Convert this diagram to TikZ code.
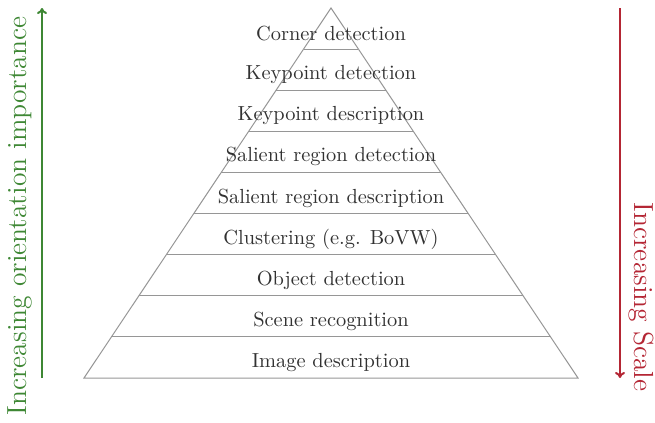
\documentclass[tikz,border=0pt]{standalone}
\usetikzlibrary{arrows.meta,calc}
\definecolor{grn}{RGB}{62,135,52}
\definecolor{rd}{RGB}{180,38,52}
\definecolor{txt}{RGB}{50,50,50}
\definecolor{ln}{RGB}{150,150,150}
\begin{document}
\begin{tikzpicture}[x=0.5pt,y=-0.5pt,
  layer/.style={text=txt,font=\fontsize{10.2}{12}\selectfont,inner sep=0pt},
  side/.style={font=\fontsize{13.8}{16}\selectfont,inner sep=0pt},
  pline/.style={draw=ln,line width=0.5pt},
  sarrow/.style={line width=1pt,-{To[length=3pt,width=5pt]}}]
\useasboundingbox (0,0) rectangle (655,423);
\coordinate (apex) at (331,8);
\coordinate (bl) at (84,378);
\coordinate (br) at (578,378);
\draw[pline] (bl) -- (apex) -- (br) -- cycle;
\foreach \k in {1,...,8}{
  \draw[pline] ($(apex)!{\k/9}!(bl)$) -- ($(apex)!{\k/9}!(br)$);
}
\foreach \t [count=\i] in {Corner detection,Keypoint detection,Keypoint description,Salient region detection,Salient region description,{Clustering (e.g. BoVW)},Object detection,Scene recognition,Image description}{
  \node[layer] (l\i) at (331,{8+41.11*(\i-0.5)+5}) {\t};
}
\coordinate (gs) at (42,378);
\coordinate (ge) at (42,8);
\draw[sarrow,grn] (gs) -- (ge);
\coordinate (rs) at (620,8);
\coordinate (re) at (620,378);
\draw[sarrow,rd] (rs) -- (re);
\node[side,text=grn,rotate=90] (gl) at (20,216) {Increasing orientation importance};
\node[side,text=rd,rotate=-90] (rl) at (641,297) {Increasing Scale};
\end{tikzpicture}
\end{document}
